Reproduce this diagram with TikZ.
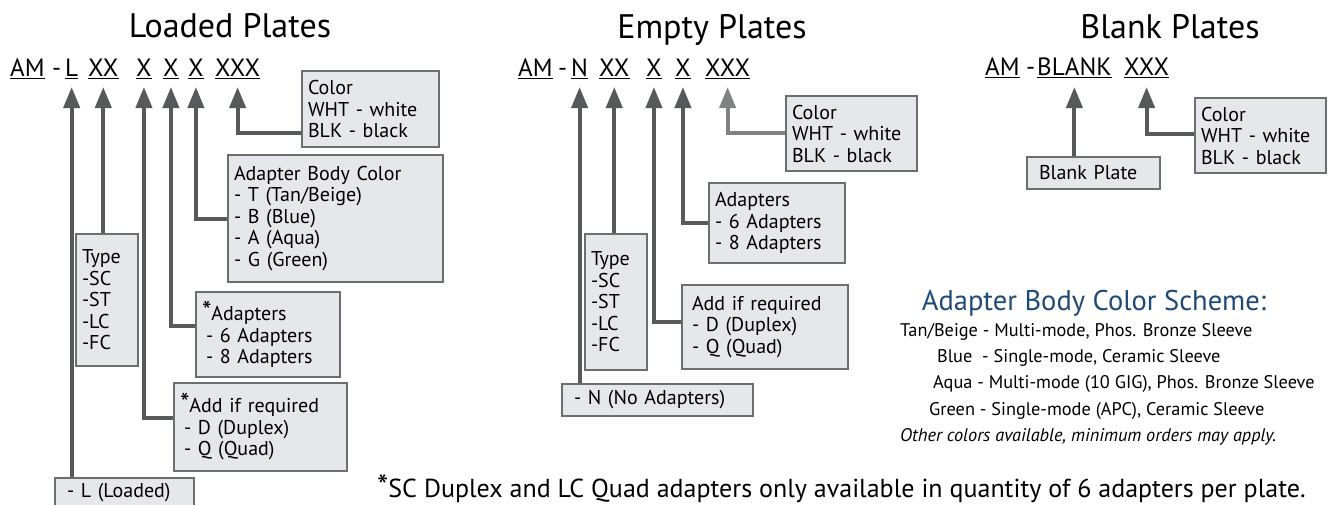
\documentclass[tikz,border=0pt]{standalone}
\usepackage{fontspec}
\setmainfont{PT Sans}
\usetikzlibrary{arrows.meta}
\definecolor{boxfill}{HTML}{E6E7E8}
\definecolor{boxline}{HTML}{6D6E71}
\definecolor{arrowgray}{HTML}{58595B}
\definecolor{lightarrow}{HTML}{808285}
\definecolor{schemeblue}{HTML}{1F4A75}
\newcommand{\bigast}{{\fontsize{27}{27}\selectfont*}}
\begin{document}
\begin{tikzpicture}[x=1pt,y=-1pt,
  title/.style={font=\fontsize{34}{38}\selectfont,anchor=base,inner sep=0pt},
  code/.style={font=\fontsize{25}{30}\selectfont,anchor=base west,inner sep=0pt},
  box/.style={draw=boxline,fill=boxfill,line width=2pt,anchor=north west,align=left,
    inner xsep=6pt,inner ysep=2pt,font=\fontsize{20}{21.5}\selectfont},
  conn/.style={draw=arrowgray,line width=4pt,-{Triangle[width=16pt,length=21pt]}},
  uline/.style={line width=1.4pt},
  scheme/.style={font=\fontsize{18.3}{26}\selectfont,anchor=base west,inner sep=0pt}]
  \fill[white] (0,0) rectangle (1328,504);
  \useasboundingbox (0,0) rectangle (1328,504);
  \clip (0,0) rectangle (1328,504);
  % titles
  \node[title] (loadT) at (230,37) {Loaded Plates};
  \node[title] (emptyT) at (712,38) {Empty Plates};
  \node[title] (blankT) at (1170,38) {Blank Plates};
  % part numbers
  \node[code] (amL) at (10,76) {AM};
  \node[code] (dashL) at (52,76) {-};
  \node[code] (lL) at (65,76) {L};
  \node[code] (xxL) at (88,76) {XX};
  \node[code] (xaL) at (136,76) {X};
  \node[code] (xbL) at (163,76) {X};
  \node[code] (xcL) at (188,76) {X};
  \node[code] (xxxL) at (215,76) {XXX};
  \node[code] (amE) at (518,76) {AM};
  \node[code] (dashE) at (558,76) {-};
  \node[code] (nE) at (571,76) {N};
  \node[code] (xxE) at (599,76) {XX};
  \node[code] (xaE) at (646,76) {X};
  \node[code] (xbE) at (675,76) {X};
  \node[code] (xxxE) at (705,76) {XXX};
  \node[code] (amB) at (985,75) {AM};
  \node[code] (dashB) at (1026,75) {-};
  \node[code] (blankB) at (1037,75) {BLANK};
  \node[code] (xxxB) at (1124,75) {XXX};
  \foreach \t in {amL,lL,xxL,xaL,xbL,xcL,xxxL,amE,nE,xxE,xaE,xbE,xxxE,amB,blankB,xxxB}
    \draw[uline] ([yshift=-2.5pt]\t.base west) -- ([yshift=-2.5pt]\t.base east);
  % loaded plates
  \node[box,text width=125pt,minimum height=76pt] (colorL) at (301,70) {Color\\WHT - white\\BLK - black};
  \node[box,text width=203pt,minimum height=127pt] (bodyL) at (227,154) {Adapter Body Color\\- T (Tan/Beige)\\- B (Blue)\\- A (Aqua)\\- G (Green)};
  \node[box,text width=50pt,minimum height=132pt] (typeL) at (75,233) {Type\\-SC\\-ST\\-LC\\-FC};
  \node[box,text width=132pt,minimum height=85pt] (adaptL) at (195,291) {\bigast Adapters\\\hspace{4pt}- 6 Adapters\\\hspace{4pt}- 8 Adapters};
  \node[box,text width=161pt,minimum height=88pt] (addL) at (173,382) {\bigast Add if required\\\hspace{4pt}- D (Duplex)\\\hspace{4pt}- Q (Quad)};
  \node[box,text width=127pt,minimum height=29pt] (loadL) at (54,477) {\hspace{6pt}- L (Loaded)};
  \draw[conn] (colorL.west |- 0,133) -| ([yshift=-11pt]xxxL.base);
  \draw[conn] (bodyL.west |- 0,219) -| ([yshift=-11pt]xcL.base);
  \draw[conn] (adaptL.west |- 0,326) -| ([yshift=-11pt]xbL.base);
  \draw[conn] (addL.west |- 0,418) -| ([yshift=-11pt]xaL.base);
  \draw[conn] (typeL.north -| xxL.base) -- ([yshift=-11pt]xxL.base);
  \draw[conn] (loadL.north -| lL.base) -- ([yshift=-11pt]lL.base);
  % empty plates
  \node[box,text width=119pt,minimum height=75pt] (colorE) at (785,95) {Color\\WHT - white\\BLK - black};
  \node[box,text width=124pt,minimum height=80pt] (adaptE) at (708,182) {Adapters\\- 6 Adapters\\- 8 Adapters};
  \node[box,text width=50pt,minimum height=136pt] (typeE) at (584,233) {Type\\-SC\\-ST\\-LC\\-FC};
  \node[box,text width=154pt,minimum height=84pt] (addE) at (681,284) {\hspace{4pt}Add if required\\\hspace{4pt}- D (Duplex)\\\hspace{4pt}- Q (Quad)};
  \node[box,text width=179pt,minimum height=32pt] (noadE) at (561,383) {\hspace{6pt}- N (No Adapters)};
  \draw[conn,draw=lightarrow] (colorE.west |- 0,133) -| ([yshift=-11pt]xxxE.base);
  \draw[conn] (adaptE.west |- 0,223) -| ([yshift=-11pt]xbE.base);
  \draw[conn] (addE.west |- 0,322) -| ([yshift=-11pt]xaE.base);
  \draw[conn] (typeE.north -| xxE.base) -- ([yshift=-11pt]xxE.base);
  \draw[conn] (noadE.north -| nE.base) -- ([yshift=-11pt]nE.base);
  % blank plates
  \node[box,text width=121pt,minimum height=32pt] (plateB) at (1026,156) {\hspace{6pt}Blank Plate};
  \node[box,text width=119pt,minimum height=75pt] (colorB) at (1194,97) {Color\\WHT - white\\BLK - black};
  \draw[conn] (colorB.west |- 0,134) -| ([yshift=-12pt]xxxB.base);
  \draw[conn] (plateB.north -| blankB.base) -- ([yshift=-12pt]blankB.base);
  % colour scheme
  \node[font=\fontsize{28.5}{32}\selectfont,text=schemeblue,anchor=base,inner sep=0pt] (schemeT) at (1094,310) {Adapter Body Color Scheme:};
  \node[scheme] (tan) at (900,336) {Tan/Beige - Multi-mode, Phos. Bronze Sleeve};
  \node[scheme] (blue) at (937,362) {Blue\ \ - Single-mode, Ceramic Sleeve};
  \node[scheme] (aqua) at (933,388) {Aqua - Multi-mode (10 GIG), Phos. Bronze Sleeve};
  \node[scheme] (green) at (929,415) {Green - Single-mode (APC), Ceramic Sleeve};
  \node[scheme,font=\fontsize{18.3}{26}\selectfont\itshape] (other) at (900,441) {Other colors available, minimum orders may apply.};
  \node[anchor=base west,inner sep=0pt,font=\fontsize{26}{30}\selectfont] (note) at (377,497) {{\fontsize{32}{32}\selectfont*}SC Duplex and LC Quad adapters only available in quantity of 6 adapters per plate.};
\end{tikzpicture}
\end{document}
